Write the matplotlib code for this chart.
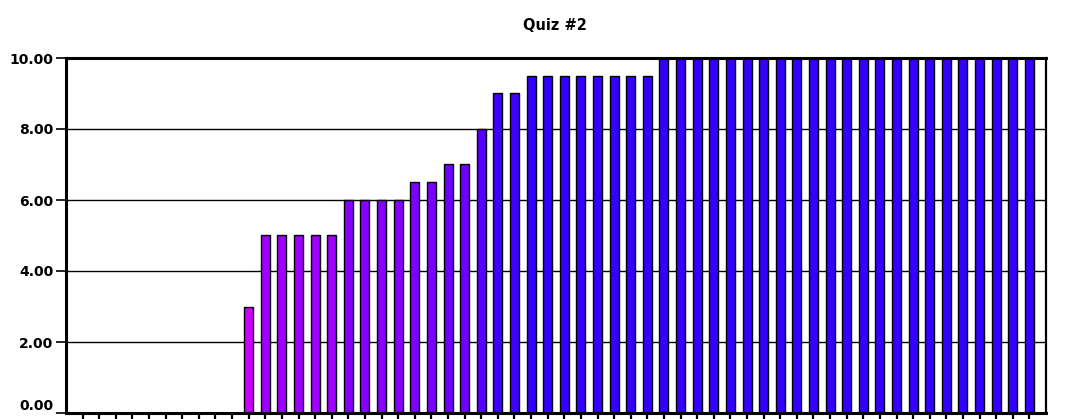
import numpy as np
import matplotlib
matplotlib.use("Agg")
import matplotlib.pyplot as plt
from matplotlib.colors import LinearSegmentedColormap, Normalize

# Данные: оценки за Quiz #2 (отсортированы)
title = "Quiz #2"
scores = [0.0] * 10 + [3.0] + [5.0] * 5 + [6.0] * 4 + [6.5] * 2 + [7.0] * 2 \
    + [8.0] + [9.0] * 2 + [9.5] * 8 + [10.0] * 23
y_ticks = [0.0, 2.0, 4.0, 6.0, 8.0, 10.0]

positions = np.arange(1, len(scores) + 1)

# Цвет по значению: от пурпурного к синему
cmap = LinearSegmentedColormap.from_list("quiz", ["#CC00FF", "#3300FF"])
norm = Normalize(vmin=3.0, vmax=9.5, clip=True)
colors = [cmap(norm(v)) for v in scores]

fig = plt.figure(figsize=(10.69, 4.19), dpi=100)
ax = fig.add_axes([66 / 1069, 6 / 419, 980 / 1069, 355 / 419])

ax.set_axisbelow(True)
ax.yaxis.grid(True, color="black", linewidth=1.0)
ax.bar(positions, scores, width=0.54, color=colors, edgecolor="black",
       linewidth=1.0, zorder=2)

ax.set_xlim(0, len(scores) + 1)
ax.set_ylim(0, 10)
ax.set_yticks(y_ticks)
ax.set_yticklabels([f"{v:.2f}" for v in y_ticks])
ax.set_xticks(positions)
ax.set_xticklabels([])

for side in ("left", "bottom", "top"):
    ax.spines[side].set_linewidth(2.2)
ax.spines["right"].set_linewidth(1.6)

ax.tick_params(axis="y", direction="out", length=7, width=1.2, pad=2,
               labelsize=10)
ax.tick_params(axis="x", direction="out", length=7, width=1.6)
for lbl in ax.get_yticklabels():
    lbl.set_fontweight("bold")
    lbl.set_family("DejaVu Sans")
# подпись 0.00 поднимаем, чтобы не обрезалась снизу
ax.get_yticklabels()[0].set_verticalalignment("bottom")

fig.text(555 / 1069, 1 - 25 / 419, title, ha="center", va="center",
         fontsize=10.5, fontweight="bold", family="DejaVu Sans")

fig.savefig("out.png", dpi=100)
